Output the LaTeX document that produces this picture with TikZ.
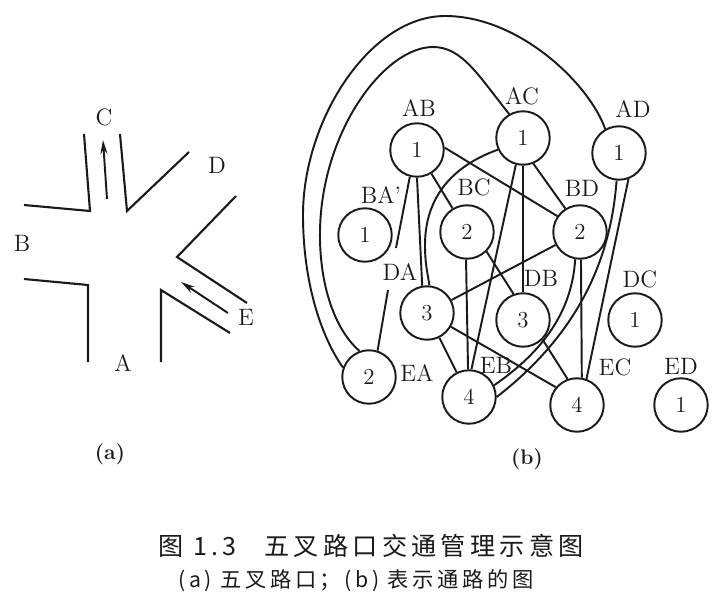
\documentclass[tikz,border=0pt]{standalone}
\usepackage{fontspec}
\usepackage{xcolor}
\usetikzlibrary{arrows.meta,positioning,calc}
\newfontfamily\cjk[LetterSpace=17]{Noto Sans CJK SC}
\definecolor{ink}{HTML}{1A1A1A}

\begin{document}
\begin{tikzpicture}[
  x=0.02cm, y=-0.02cm,
  color=ink,
  road/.style={draw=ink, line width=1.2pt, line join=miter},
  flow/.style={-{Stealth[length=8pt,width=4pt]}, draw=ink, line width=1.1pt},
  turn/.style={circle, draw=ink, line width=1.1pt, minimum size=1.07cm, inner sep=0pt, font=\fontsize{13}{15}\selectfont},
  tag/.style={font=\fontsize{13.5}{15}\selectfont, inner sep=0pt},
  edge/.style={draw=ink, line width=1.1pt},
  sub/.style={font=\fontsize{12}{14}\selectfont\bfseries, inner sep=0pt}
]
\useasboundingbox (0,0) rectangle (721,608);

% (a)
\draw[road] (84,134)--(90,211)--(24,205);
\draw[road] (120,134)--(127,211)--(189,152);
\draw[road] (236,196)--(177,257)--(247,303);
\draw[road] (230,333)--(161,290)--(161,362);
\draw[road] (24,279)--(88,285)--(88,362);
\draw[flow] (107,199)--(103,140);
\draw[flow] (228,313)--(181,282);

\node[tag] (c) at (104,117) {C};
\node[tag] (d) at (217,165) {D};
\node[tag] (b) at (22,243) {B};
\node[tag] (a) at (123,363) {A};
\node[tag] (e) at (246,317) {E};
\node[sub] (suba) at (110,454) {(a)};

% (b)
\node[turn] (ab) at (417,150) {1};
\node[turn] (ac) at (523,138) {1};
\node[turn] (ad) at (619,153) {1};
\node[turn] (ba) at (365,235) {1};
\node[turn] (bc) at (467,232) {2};
\node[turn] (bd) at (580,232) {2};
\node[turn] (da) at (427,313) {3};
\node[turn] (db) at (523,320) {3};
\node[turn] (dc) at (635,320) {1};
\node[turn] (ea) at (369,377) {2};
\node[turn] (eb) at (469,397) {4};
\node[turn] (ec) at (577,405) {4};
\node[turn] (ed) at (681,405) {1};

\node[tag] (tab) at (419,108) {AB};
\node[tag] (tac) at (522,96) {AC};
\node[tag] (tad) at (633,109) {AD};
\node[tag] (tba) at (381,195) {BA'};
\node[tag] (tbc) at (474,187) {BC};
\node[tag] (tbd) at (582,188) {BD};
\node[tag] (tda) at (400,272) {DA};
\node[tag] (tdb) at (541,278) {DB};
\node[tag] (tdc) at (640,279) {DC};
\node[tag] (tea) at (417,373) {EA};
\node[tag] (teb) at (496,365) {EB};
\node[tag] (tec) at (615,367) {EC};
\node[tag] (ted) at (681,366) {ED};
\node[sub] (subb) at (527,459) {(b)};

\coordinate (gapa) at (396,248);
\coordinate (gapb) at (388,290);

\draw[edge] (ab.5)--(bd.145);
\draw[edge] (ab)--(bc);
\draw[edge] (ab.270)--(da.100);
\draw[edge] (ab.255)--(gapa);
\draw[edge] (gapb)--(ea.72);
\draw[edge] (ac.255)--(eb.85);
\draw[edge] (ac)--(db);
\draw[edge] (ac.-68)--(bd.122);
\draw[edge] (ad.-70)--(ec.70);
\draw[edge] (bc.268)--(eb.92);
\draw[edge] (bc.-45)--(db.110);
\draw[edge] (bd)--(da);
\draw[edge] (bd.-88)--(ec.80);
\draw[edge] (da)--(eb);
\draw[edge] (da)--(ec.140);
\draw[edge] (db.-45)--(ec.110);

\draw[edge] (ac.205) .. controls (455,165) and (425,195) .. (425,245) .. controls (425,265) and (428,275) .. (da.85);
\draw[edge] (ad.265) .. controls (610,270) and (570,340) .. (eb.0);
\draw[edge] (bd.-100) .. controls (572,310) and (545,350) .. (eb.25);
\draw[edge] (ac.120) .. controls (478,75) and (462,47) .. (433,47) .. controls (385,47) and (322,130) .. (320,230) .. controls (319,285) and (335,330) .. (ea.110);
\draw[edge] (ad.120) .. controls (590,85) and (520,16) .. (445,16) .. controls (370,16) and (303,120) .. (303,215) .. controls (303,280) and (320,335) .. (ea.160);

% caption
\node[font=\cjk\fontsize{14.3}{18}\selectfont, inner sep=0pt] (title) at (371,546) {图 1.3\hspace{1.1em}五叉路口交通管理示意图};
\node[font=\cjk\fontsize{12.1}{14}\selectfont, inner sep=0pt] (note) at (356,581) {(a) 五叉路口；(b) 表示通路的图};
\end{tikzpicture}
\end{document}
